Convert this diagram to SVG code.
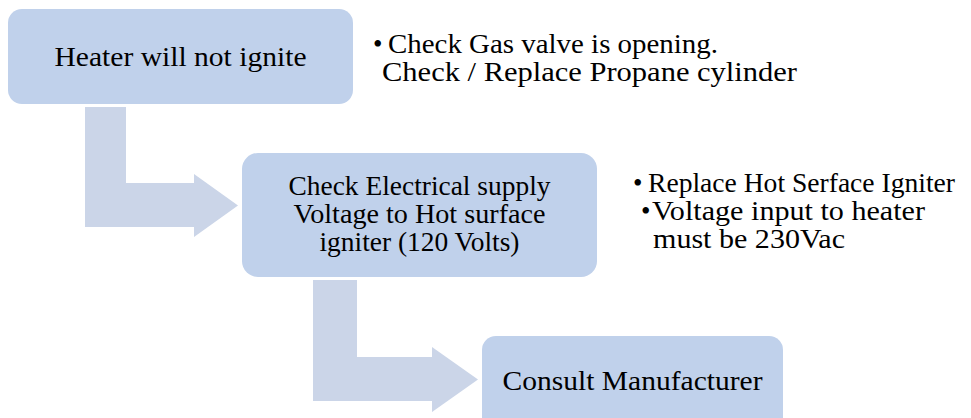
<svg xmlns="http://www.w3.org/2000/svg" width="971" height="418" viewBox="0 0 971 418">
  <style>
    .box { fill: #C0D1EB; }
    .arrow { fill: #CBD5E8; }
    .t { font-family: 'Liberation Serif', 'Times New Roman', Times, serif; font-size: 27px; fill: #000000; }
    .c { text-anchor: middle; }
  </style>
  <rect width="971" height="418" fill="#FFFFFF"/>
  <g id="connectors">
    <polygon class="arrow" points="85,107 126,107 126,183 194,183 194,174 238,205.5 194,237 194,227 85,227"/>
    <polygon class="arrow" points="313,280 357,280 357,357 432,357 432,347 478,379.5 432,412 432,401 313,401"/>
  </g>
  <g id="node-heater">
    <rect class="box" x="8" y="9" width="345" height="95" rx="14"/>
    <text class="t c" x="180.5" y="66" textLength="252" lengthAdjust="spacingAndGlyphs">Heater will not ignite</text>
  </g>
  <g id="node-electrical">
    <rect class="box" x="242" y="153" width="355" height="124" rx="16"/>
    <text class="t c" x="419.5" y="195" textLength="262" lengthAdjust="spacingAndGlyphs">Check Electrical supply</text>
    <text class="t c" x="419.5" y="223" textLength="252" lengthAdjust="spacingAndGlyphs">Voltage to Hot surface</text>
    <text class="t c" x="419.5" y="251" textLength="200" lengthAdjust="spacingAndGlyphs">igniter (120 Volts)</text>
  </g>
  <g id="node-consult">
    <rect class="box" x="482" y="336" width="301" height="100" rx="14"/>
    <text class="t c" x="632.5" y="390" textLength="260" lengthAdjust="spacingAndGlyphs">Consult Manufacturer</text>
  </g>
  <g id="note-gas">
    <text class="t" x="373" y="53">•</text>
    <text class="t" x="388" y="53" textLength="330" lengthAdjust="spacingAndGlyphs">Check Gas valve is opening.</text>
    <text class="t" x="382" y="81" textLength="415" lengthAdjust="spacingAndGlyphs">Check / Replace Propane cylinder</text>
  </g>
  <g id="note-igniter">
    <text class="t" x="633" y="192">•</text>
    <text class="t" x="648" y="192" textLength="307" lengthAdjust="spacingAndGlyphs">Replace Hot Serface Igniter</text>
    <text class="t" x="641" y="220">•</text>
    <text class="t" x="652" y="220" textLength="273" lengthAdjust="spacingAndGlyphs">Voltage input to heater</text>
    <text class="t" x="653" y="248" textLength="192" lengthAdjust="spacingAndGlyphs">must be 230Vac</text>
  </g>
</svg>
